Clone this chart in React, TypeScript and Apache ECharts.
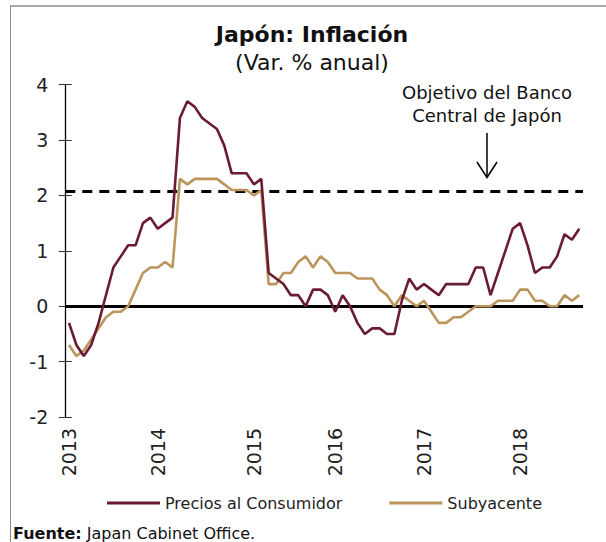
import React, { useEffect, useRef } from "react";
import * as echarts from "echarts";

// ---- data ----
const years = ["2013", "2014", "2015", "2016", "2017", "2018"];
const yearLabelIdx = [0, 12, 25, 36, 48, 61];
const lastYear = 2018;
const lastMonth = 10;
const months: string[] = [];
for (let y = 2013; y <= lastYear; y++) {
  for (let m = 1; m <= 12; m++) {
    if (y === lastYear && m > lastMonth) break;
    months.push(`${y}-${String(m).padStart(2, "0")}`);
  }
}

const precios = [
  -0.3, -0.7, -0.9, -0.7, -0.3, 0.2, 0.7, 0.9, 1.1, 1.1, 1.5, 1.6,
  1.4, 1.5, 1.6, 3.4, 3.7, 3.6, 3.4, 3.3, 3.2, 2.9, 2.4, 2.4,
  2.4, 2.2, 2.3, 0.6, 0.5, 0.4, 0.2, 0.2, 0.0, 0.3, 0.3, 0.2,
  -0.1, 0.2, 0.0, -0.3, -0.5, -0.4, -0.4, -0.5, -0.5, 0.1, 0.5, 0.3,
  0.4, 0.3, 0.2, 0.4, 0.4, 0.4, 0.4, 0.7, 0.7, 0.2, 0.6, 1.0,
  1.4, 1.5, 1.1, 0.6, 0.7, 0.7, 0.9, 1.3, 1.2, 1.4,
];

const subyacente = [
  -0.7, -0.9, -0.8, -0.6, -0.4, -0.2, -0.1, -0.1, 0.0, 0.3, 0.6, 0.7,
  0.7, 0.8, 0.7, 2.3, 2.2, 2.3, 2.3, 2.3, 2.3, 2.2, 2.1, 2.1,
  2.1, 2.0, 2.1, 0.4, 0.4, 0.6, 0.6, 0.8, 0.9, 0.7, 0.9, 0.8,
  0.6, 0.6, 0.6, 0.5, 0.5, 0.5, 0.3, 0.2, 0.0, 0.2, 0.1, 0.0,
  0.1, -0.1, -0.3, -0.3, -0.2, -0.2, -0.1, 0.0, 0.0, 0.0, 0.1, 0.1,
  0.1, 0.3, 0.3, 0.1, 0.1, 0.0, 0.0, 0.2, 0.1, 0.2,
];

const objetivo = 2.08;
const yMin = -2;
const yMax = 4;
const yStep = 1;

const FONT = "'DejaVu Sans', sans-serif";
const C1 = "#691C32";
const C2 = "#BC955C";

export default function App() {
  const ref = useRef<HTMLDivElement>(null);
  useEffect(() => {
    const chart = echarts.init(ref.current!, null, { renderer: "svg" });
    chart.setOption({
      animation: false,
      textStyle: { fontFamily: FONT },
      grid: { left: 65.3, right: 23, top: 84.7, bottom: 125, containLabel: false },
      legend: {
        data: ["Precios al Consumidor", "Subyacente"],
        left: 107,
        top: 495,
        padding: 0,
        icon: "rect",
        itemWidth: 53,
        itemHeight: 3,
        itemGap: 47,
        textStyle: { fontSize: 16, color: "#222", fontFamily: FONT },
      },
      xAxis: {
        type: "category",
        data: months,
        boundaryGap: true,
        position: "bottom",
        axisLine: { show: false, onZero: false },
        axisTick: { show: false },
        splitLine: { show: false },
        axisLabel: {
          rotate: 90,
          margin: 11,
          fontSize: 19,
          color: "#222",
          fontFamily: FONT,
          interval: (i: number) => yearLabelIdx.includes(i),
          formatter: (_v: string, i: number) => years[yearLabelIdx.indexOf(i)] ?? "",
        },
      },
      yAxis: [
        {
          type: "value",
          min: yMin,
          max: yMax,
          interval: yStep,
          position: "left",
          axisLine: { show: true, lineStyle: { color: "#000", width: 1.3 } },
          axisTick: { show: true, inside: false, length: 6.5, lineStyle: { color: "#333", width: 1 } },
          axisLabel: { fontSize: 19, color: "#222", margin: 17, fontFamily: FONT },
          splitLine: { show: false },
        },
        {
          type: "value",
          min: yMin,
          max: yMax,
          interval: yStep,
          position: "left",
          axisLine: { show: false },
          axisTick: { show: true, inside: true, length: 6.5, lineStyle: { color: "#333", width: 1 } },
          axisLabel: { show: false },
          splitLine: { show: false },
        },
      ],
      series: [
        {
          name: "Precios al Consumidor",
          type: "line",
          data: precios,
          showSymbol: false,
          symbol: "none",
          color: C1,
          lineStyle: { color: C1, width: 2.6 },
          z: 3,
          markLine: {
            silent: true,
            symbol: "none",
            label: { show: false },
            z: 1,
            data: [
              { yAxis: 0, lineStyle: { color: "#000", width: 3, type: "solid" } },
              { yAxis: objetivo, lineStyle: { color: "#000", width: 3, type: [10, 7] } },
            ],
          },
        },
        {
          name: "Subyacente",
          type: "line",
          data: subyacente,
          showSymbol: false,
          symbol: "none",
          color: C2,
          lineStyle: { color: C2, width: 2.6 },
          z: 2,
        },
      ],
      graphic: [
        { type: "line", shape: { x1: 10.5, y1: 6, x2: 10.5, y2: 542 }, style: { stroke: "#8c8c8c", lineWidth: 1 } },
        { type: "line", shape: { x1: 10, y1: 6, x2: 606, y2: 6 }, style: { stroke: "#8c8c8c", lineWidth: 1.5 } },
        {
          type: "text",
          x: 312,
          y: 34,
          style: { text: "Japón: Inflación", fontSize: 22, fontWeight: "bold", fill: "#111", align: "center", verticalAlign: "middle", fontFamily: FONT },
        },
        {
          type: "text",
          x: 312,
          y: 62,
          style: { text: "(Var. % anual)", fontSize: 22, fill: "#111", align: "center", verticalAlign: "middle", fontFamily: FONT },
        },
        {
          type: "text",
          x: 487,
          y: 104,
          style: { text: "Objetivo del Banco\nCentral de Japón", fontSize: 18, lineHeight: 23, fill: "#111", align: "center", verticalAlign: "middle", fontFamily: FONT },
        },
        { type: "line", shape: { x1: 487, y1: 133, x2: 487, y2: 177 }, style: { stroke: "#000", lineWidth: 1.5 } },
        { type: "polyline", shape: { points: [[477, 162], [487, 177.5], [497, 162]] }, style: { stroke: "#000", lineWidth: 1.5, fill: null } },
        {
          type: "text",
          x: 13,
          y: 533,
          style: {
            text: "{b|Fuente:} Japan Cabinet Office.",
            fontSize: 16,
            fill: "#111",
            verticalAlign: "middle",
            fontFamily: FONT,
            rich: { b: { fontWeight: "bold", fontSize: 16, fill: "#111", fontFamily: FONT } },
          },
        },
      ],
    });
    return () => chart.dispose();
  }, []);
  return (
    <div
      ref={ref}
      style={{ position: "fixed", left: 0, top: 0, width: 606, height: 542, background: "#fff" }}
    />
  );
}
